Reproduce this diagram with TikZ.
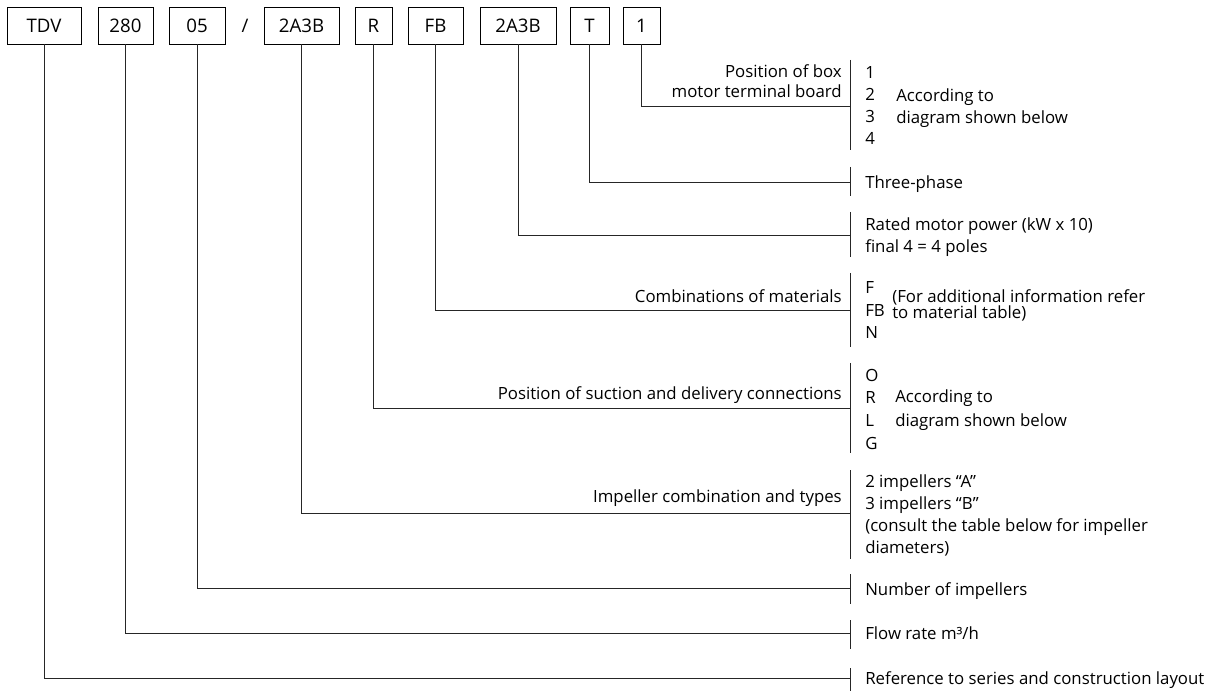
\documentclass[tikz,border=0pt]{standalone}
\usepackage{fontspec}
\setmainfont{Open Sans}

\tikzset{
	codebox/.style={draw, line width=0.7pt, minimum height=27.75pt, inner sep=0pt, font=\fontsize{14}{16}\selectfont},
	lefttext/.style={inner sep=0pt, align=right, anchor=base east, font=\fontsize{12.6}{#1}\selectfont},
	lefttext/.default=16.5pt,
	righttext/.style={inner sep=0pt, align=left, anchor=base west, font=\fontsize{12.6}{#1}\selectfont},
	righttext/.default=16.5pt,
	wire/.style={line width=0.7pt, draw=black!85}
}

\begin{document}
\begin{tikzpicture}[x=0.75pt, y=-0.75pt]
	\useasboundingbox (0,0) rectangle (1213,691);
	% code boxes
	\node[codebox, minimum width=55.5pt] (tdv) at (44,25.5) {TDV};
	\node[codebox, minimum width=41.25pt] (flow) at (125.5,25.5) {280};
	\node[codebox, minimum width=42pt] (num) at (197,25.5) {05};
	\node[font=\fontsize{14}{16}\selectfont] (slash) at (245,25.5) {/};
	\node[codebox, minimum width=56.25pt] (imp) at (301.5,25.5) {2A3B};
	\node[codebox, minimum width=27.75pt] (conn) at (373.5,25.5) {R};
	\node[codebox, minimum width=41.25pt] (mat) at (435.5,25.5) {FB};
	\node[codebox, minimum width=57pt] (power) at (518,25.5) {2A3B};
	\node[codebox, minimum width=29.25pt] (phase) at (589.5,25.5) {T};
	\node[codebox, minimum width=27.75pt] (board) at (641.5,25.5) {1};
	% brackets and leaders
	\foreach \n/\top/\y/\bot in {board/60/106/150, phase/167/182/196, power/212/235/257, mat/273/310/347, conn/363/408/453, imp/470/513/559, num/574/588/604, flow/620/633/649, tdv/668/678/691}{
		\coordinate (\n-top) at (850,\top);
		\coordinate (\n-bot) at (850,\bot);
		\coordinate (\n-end) at (850,\y);
		\draw[wire] (\n-top) -- (\n-bot);
		\draw[wire] (\n) |- (\n-end);
	}
	% descriptions (anchored on the last line)
	\node[lefttext=15pt] (boardl) at (842,98) {Position of box\\motor terminal board};
	\node[righttext] (boardc) at (865,145) {1\\2\\3\\4};
	\node[righttext=17pt] (boardd) at (896,124) {According to\\diagram shown below};
	\node[righttext] (phased) at (865,189) {Three-phase};
	\node[righttext] (powerd) at (865,253) {Rated motor power (kW x 10)\\final 4 = 4 poles};
	\node[lefttext] (matl) at (842,303) {Combinations of materials};
	\node[righttext=16.9pt] (matc) at (865,339) {F\\FB\\N};
	\node[righttext=12.4pt] (matd) at (892,319) {(For additional information refer\\to material table)};
	\node[lefttext] (connl) at (842,399) {Position of suction and delivery connections};
	\node[righttext=17pt] (connc) at (865,449) {O\\R\\L\\G};
	\node[righttext=17.25pt] (connd) at (895,426) {According to\\diagram shown below};
	\node[lefttext] (impl) at (842,502) {Impeller combination and types};
	\node[righttext=16.3pt] (impd) at (865,553) {2 impellers “A”\\3 impellers “B”\\(consult the table below for impeller\\diameters)};
	\node[righttext] (numd) at (865,595) {Number of impellers};
	\node[righttext] (flowd) at (865,639) {Flow rate m³/h};
	\node[righttext] (tdvd) at (865,684) {Reference to series and construction layout};
\end{tikzpicture}
\end{document}
